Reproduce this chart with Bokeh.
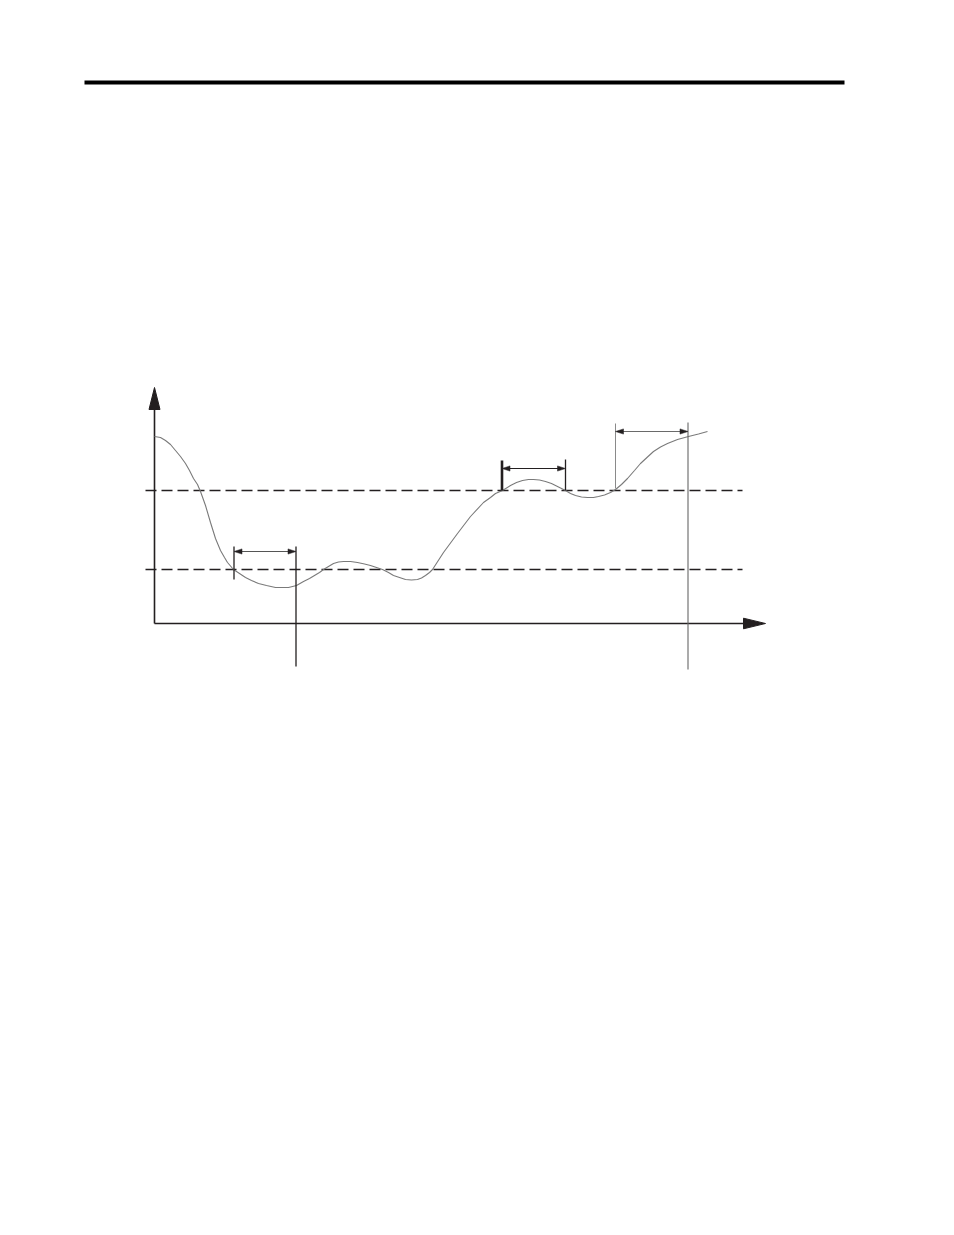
from bokeh.plotting import figure
from bokeh.models import Range1d
from bokeh.embed import file_html
from bokeh.resources import INLINE

# ---- data (chart units: origin at the axes' crossing) ----
curve_t = [0, 6, 11, 16, 21, 26, 31, 35, 39, 43, 46, 51, 56, 61, 66, 70, 73, 79, 85, 91, 97, 104, 112, 121, 128, 134, 142, 149, 155, 160, 165, 169,
           174, 179, 184, 189, 196, 203, 210, 216, 222, 228, 234, 239, 245, 251, 257, 263, 267, 271, 275, 278, 289, 303, 316, 329, 336, 341, 348,
           356, 362, 368, 374, 379, 385, 391, 397, 403, 411, 416, 421, 427, 433, 439, 444, 450, 456, 461, 467, 473, 480, 486, 493, 499, 506, 513, 523, 534, 544, 553]
curve_v = [187, 186, 183, 179, 173, 167, 160, 153, 145, 139, 132, 118, 101, 85, 73, 66, 61, 54, 50, 46, 43, 40, 38, 36, 36, 36, 38, 42, 45, 48, 51, 54,
           57, 60, 61.5, 62, 62, 61, 59.5, 58, 56, 54, 51, 48, 46, 44, 43.5, 44, 45.5, 48, 51, 54, 71, 90, 107, 121, 126, 130, 133,
           138, 141, 143, 144, 144, 143.5, 142, 140, 137, 133, 130, 128, 126.5, 126, 126, 127, 128.5, 131, 134, 139, 145, 153, 160, 166.5, 172, 176.5, 180, 184, 187, 189.5, 192]

thresholds = [133, 54]          # upper and lower dashed levels
threshold_extent = [-9, 588]

y_axis_top = 236
x_axis_end = 611

# interval markers: start, end, arrow level
iv_start = [79.5, 347.5, 461]
iv_end = [141.5, 411, 533.5]
iv_level = [72, 155, 192]
iv_start_tick = [(44, 77), (133, 163), (135, 200)]
iv_end_tick = [(-43, 77), (133, 164), (-46, 201)]

rule_extent = [-70, 690]
rule_level = 541

INK = "#231f20"

p = figure(width=938, height=700, x_range=Range1d(-154, 784), y_range=Range1d(-77, 623),
           x_axis_type=None, y_axis_type=None, toolbar_location=None,
           output_backend="svg", min_border=0, outline_line_color=None,
           background_fill_color="white", border_fill_color="white")
p.grid.visible = False

# top rule
p.line(rule_extent, [rule_level, rule_level], line_color="black", line_width=4)

# dashed threshold lines
for lv in thresholds:
    p.line(threshold_extent, [lv, lv], line_color=INK, line_width=1.3, line_dash="11 5")

# axes
p.line([0, 0], [0, y_axis_top - 20], line_color=INK, line_width=1.6)
p.line([0, x_axis_end - 20], [0, 0], line_color=INK, line_width=1.6)
p.patch([-5.5, 5.5, 0], [y_axis_top - 22, y_axis_top - 22, y_axis_top], fill_color=INK, line_color=INK)
p.patch([x_axis_end - 22, x_axis_end - 22, x_axis_end], [-5.3, 5.3, 0], fill_color=INK, line_color=INK)

# curve
p.line(curve_t, curve_v, line_color="#7a7a7a", line_width=1.1)

# interval markers
start_styles = [(INK, 1.3), (INK, 2.6), ("#8a8a8a", 1.0)]
end_styles = [(INK, 1.3), (INK, 1.3), ("#666666", 1.1)]
shaft_colors = ["#555555", INK, "#6a6a6a"]
for i in range(3):
    s, e, lv = iv_start[i], iv_end[i], iv_level[i]
    c, w = start_styles[i]
    p.line([s, s], list(iv_start_tick[i]), line_color=c, line_width=w)
    c, w = end_styles[i]
    p.line([e, e], list(iv_end_tick[i]), line_color=c, line_width=w)
    p.line([s + 6, e - 6], [lv, lv], line_color=shaft_colors[i], line_width=1.1)
    p.patch([s, s + 8, s + 8], [lv, lv + 2.6, lv - 2.6], fill_color=INK, line_color=INK, line_width=0.5)
    p.patch([e, e - 8, e - 8], [lv, lv + 2.6, lv - 2.6], fill_color=INK, line_color=INK, line_width=0.5)

open("out.html", "w").write(file_html(p, INLINE))
